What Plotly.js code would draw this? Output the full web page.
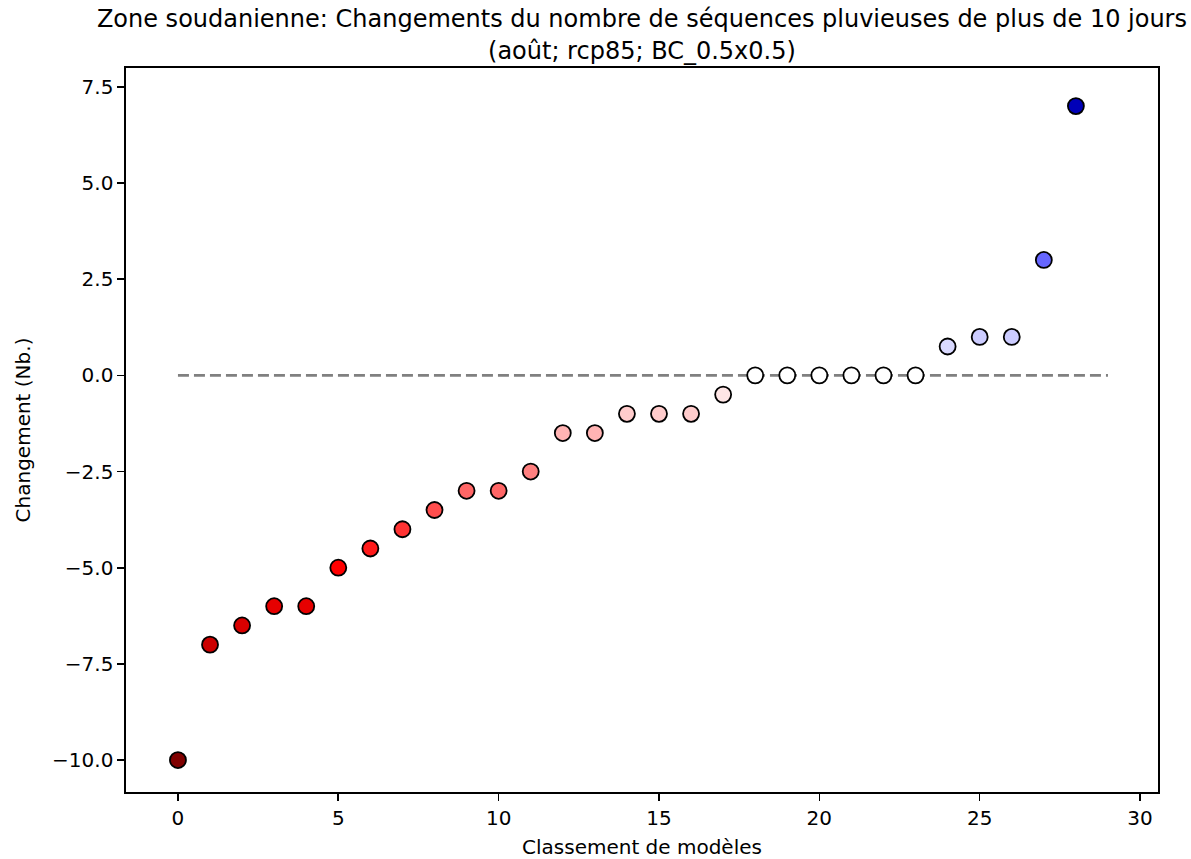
<!DOCTYPE html>
<html>
<head>
<meta charset="utf-8">
<script src="https://cdn.plot.ly/plotly-3.0.1.min.js"></script>
<style>html,body{margin:0;padding:0;background:#fff;}#chart{width:1191px;height:859px;}</style>
</head>
<body>
<div id="chart"></div>
<script>
const ranks = [0,1,2,3,4,5,6,7,8,9,10,11,12,13,14,15,16,17,18,19,20,21,22,23,24,25,26,27,28];
const changes = [-10,-7,-6.5,-6,-6,-5,-4.5,-4,-3.5,-3,-3,-2.5,-1.5,-1.5,-1,-1,-1,-0.5,0,0,0,0,0,0,0.75,1,1,3,7];
const refX = [0, 29];
const refY = [0, 0];
const xTicks = [0,5,10,15,20,25,30];
const yTicks = [-10,-7.5,-5,-2.5,0,2.5,5,7.5];
const titleText = 'Zone soudanienne: Changements du nombre de séquences pluvieuses de plus de 10 jours<br>(août; rcp85; BC_0.5x0.5)';
const xTitle = 'Classement de modèles';
const yTitle = 'Changement (Nb.)';

const seismicR = [[0,'rgb(128,0,0)'],[0.25,'rgb(255,0,0)'],[0.5,'rgb(255,255,255)'],[0.75,'rgb(0,0,255)'],[1,'rgb(0,0,77)']];

const font = 'DejaVu Sans, sans-serif';
const traces = [
  {x: refX, y: refY, mode: 'lines', line: {color: 'rgb(128,128,128)', width: 2.8, dash: '11px,5px'}, hoverinfo: 'skip', showlegend: false},
  {x: ranks, y: changes, mode: 'markers', showlegend: false,
   marker: {size: 16, color: changes, colorscale: seismicR, cmin: -10, cmax: 10, showscale: false,
            line: {color: 'black', width: 1.8}}}
];
const layout = {
  width: 1191, height: 859,
  margin: {l: 126, r: 33, t: 68, b: 67},
  paper_bgcolor: 'white', plot_bgcolor: 'white',
  font: {family: font, size: 20, color: 'black'},
  title: {text: titleText, font: {family: font, size: 24, color: 'black'}, x: 0.539, xanchor: 'center', yref: 'container', y: 0.968, yanchor: 'top'},
  xaxis: {range: [-1.62, 30.56], tickvals: xTicks, ticks: 'outside', ticklen: 7, tickwidth: 1.6, tickcolor: 'black',
          showgrid: false, zeroline: false, showline: true, mirror: true, linecolor: 'black', linewidth: 1.6,
          tickfont: {family: font, size: 20}, title: {text: xTitle, font: {family: font, size: 20}, standoff: 11}},
  yaxis: {range: [-10.83, 7.99], tickvals: yTicks, tickformat: '.1f', ticks: 'outside', ticklen: 7, tickwidth: 1.6, tickcolor: 'black',
          showgrid: false, zeroline: false, showline: true, mirror: true, linecolor: 'black', linewidth: 1.6,
          tickfont: {family: font, size: 20}, title: {text: yTitle, font: {family: font, size: 20}, standoff: 16}}
};
Plotly.newPlot('chart', traces, layout, {displayModeBar: false, staticPlot: true});
</script>
</body>
</html>
